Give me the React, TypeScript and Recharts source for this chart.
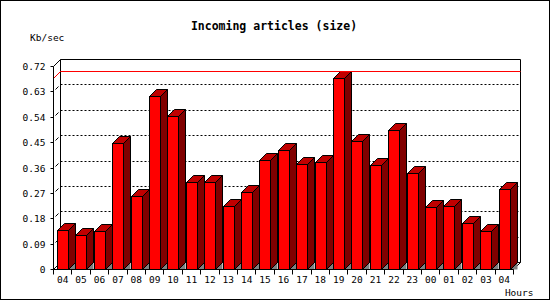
import React from "react";
import { ComposedChart, Bar, XAxis, YAxis, CartesianGrid, ReferenceLine } from "recharts";

const hours = ["04","05","06","07","08","09","10","11","12","13","14","15","16","17","18","19","20","21","22","23","00","01","02","03","04"];
const sizes = [0.139,0.121,0.135,0.447,0.259,0.614,0.541,0.308,0.308,0.225,0.273,0.385,0.421,0.372,0.380,0.679,0.454,0.369,0.494,0.340,0.219,0.225,0.163,0.134,0.283];
const yTicks = [0, 0.09, 0.18, 0.27, 0.36, 0.45, 0.54, 0.63, 0.72];

const data = hours.map((h, i) => ({ h, v: sizes[i] }));
const maxVal = Math.max(...sizes);

const D = 7;
const FONT = "'DejaVu Sans Mono', 'Liberation Mono', monospace";
const px = (v: number) => Math.floor(v) + 0.5;

function Bar3D(props: any) {
  const { x, y, width, height } = props;
  if (x == null || height == null) return null;
  const l = px(x);
  const r = l + Math.round(width);
  const t = px(y);
  const b = px(y + height);
  return (
    <g>
      <polygon points={`${r},${b} ${r + D},${b - D} ${r + D},${b}`} fill="#808080" />
      <polygon points={`${r},${t} ${r + D},${t - D} ${r + D},${b - D} ${r},${b}`} fill="#800000" stroke="#000" strokeWidth={1} />
      <polygon points={`${l},${t} ${l + D},${t - D} ${r + D},${t - D} ${r},${t}`} fill="#c00000" stroke="#000" strokeWidth={1} />
      <rect x={l} y={t} width={r - l} height={b - t} fill="#ff0000" stroke="#000" strokeWidth={1} />
    </g>
  );
}

function GridLine(p: any) {
  const { x, y, width, height, y1, index } = p;
  const top = px(y);
  const bottom = px(y + height);
  const left = px(x);
  const right = px(x + width);
  const yy = px(y1);
  const parts: any[] = [];
  if (index === 0) {
    parts.push(
      <g key="frame" stroke="#000" strokeWidth={1} fill="none">
        <line x1={left + D} y1={top - D} x2={right + D} y2={top - D} />
        <line x1={left + D} y1={top - D} x2={left + D} y2={bottom - D} />
        <line x1={right + D} y1={top - D} x2={right + D} y2={bottom - D} />
        <line x1={left + D} y1={bottom - D} x2={right + D} y2={bottom - D} />
        <line x1={left} y1={top} x2={left + D} y2={top - D} />
        <line x1={left} y1={bottom} x2={left + D} y2={bottom - D} />
        <line x1={right} y1={bottom} x2={right + D} y2={bottom - D} />
      </g>
    );
  }
  if (Math.abs(y1 - y) > 1 && Math.abs(y1 - (y + height)) > 1) {
    parts.push(
      <g key="dl" stroke="#000" strokeWidth={1} fill="none">
        <line x1={left + D} y1={yy - D} x2={right + D} y2={yy - D} strokeDasharray="2 2" />
        <line x1={left + 2} y1={yy - 2} x2={left + 5} y2={yy - 5} />
      </g>
    );
  }
  return <g>{parts}</g>;
}

function RedLine(p: any) {
  const { x1, y1, x2 } = p;
  const a = px(x1);
  const b = px(x2);
  const yy = px(y1);
  return (
    <g>
      <line x1={a} y1={yy} x2={a + D} y2={yy - D} stroke="#ff0000" strokeWidth={1} />
      <line x1={a + D} y1={yy - D} x2={b + D} y2={yy - D} stroke="#ff0000" strokeWidth={1} />
    </g>
  );
}

function XTick(p: any) {
  const { x, y, payload, index, visibleTicksCount } = p;
  const half = payload && payload.offset ? payload.offset : 9.2;
  const isLast = index === (visibleTicksCount ?? hours.length) - 1;
  return (
    <g>
      <line x1={px(x - half)} y1={y} x2={px(x - half)} y2={y + 5} stroke="#000" />
      {isLast && <line x1={px(x + half)} y1={y} x2={px(x + half)} y2={y + 5} stroke="#000" />}
      <text x={x} y={y + 13} textAnchor="middle" fontFamily={FONT} fontSize={9.5} fill="#000">
        {payload.value}
      </text>
    </g>
  );
}

function YTick(p: any) {
  const { x, y, payload } = p;
  const yy = px(y);
  const v = payload.value as number;
  return (
    <g>
      <line x1={x - 3} y1={yy} x2={x} y2={yy} stroke="#000" />
      <text x={x - 8} y={yy + 3.5} textAnchor="end" fontFamily={FONT} fontSize={9.5} fill="#000">
        {v === 0 ? "0" : v.toFixed(2)}
      </text>
    </g>
  );
}

export default function App() {
  return (
    <div style={{ position: "absolute", left: 0, top: 0, width: 550, height: 300, background: "#fff" }}>
      <svg width={550} height={300} style={{ position: "absolute", left: 0, top: 0 }}>
        <rect x={0.5} y={0.5} width={549} height={299} fill="#fff" stroke="#000" strokeWidth={1} />
        <text x={274} y={30} textAnchor="middle" fontFamily={FONT} fontSize={11.5} fontWeight="bold" fill="#000">
          Incoming articles (size)
        </text>
      </svg>
      <div style={{ position: "absolute", left: 0, top: 0 }}>
        <ComposedChart width={550} height={300} data={data} margin={{ top: 66.5, right: 36.5, left: 0.5, bottom: 0.5 }} barCategoryGap={0}>
          <CartesianGrid horizontal={GridLine as any} vertical={false} />
          <ReferenceLine y={maxVal} stroke="#ff0000" shape={RedLine as any} ifOverflow="visible" />
          <XAxis
            dataKey="h"
            interval={0}
            height={30}
            tickSize={0}
            tickMargin={0}
            tickLine={false}
            axisLine={{ stroke: "#000" }}
            tick={XTick as any}
            label={{
              content: (lp: any) => {
                const vb = lp.viewBox || { x: 53.5, y: 269.5, width: 460, height: 30 };
                return (
                  <text x={vb.x + vb.width + 20} y={vb.y + 26} textAnchor="end" fontFamily={FONT} fontSize={9.5} fill="#000">
                    Hours
                  </text>
                );
              },
            }}
          />
          <YAxis
            width={53}
            domain={[0, 0.72]}
            ticks={yTicks}
            interval={0}
            tickSize={0}
            tickMargin={0}
            axisLine={{ stroke: "#000" }}
            tickLine={false}
            tick={YTick as any}
            label={{
              content: (lp: any) => {
                const vb = lp.viewBox || { x: 0.5, y: 66.5, width: 53, height: 203 };
                return (
                  <text x={vb.x + 29.5} y={vb.y - 26} textAnchor="start" fontFamily={FONT} fontSize={9.5} fill="#000">
                    Kb/sec
                  </text>
                );
              },
            }}
          />
          <Bar dataKey="v" barSize={11} shape={Bar3D as any} isAnimationActive={false} />
        </ComposedChart>
      </div>
    </div>
  );
}
